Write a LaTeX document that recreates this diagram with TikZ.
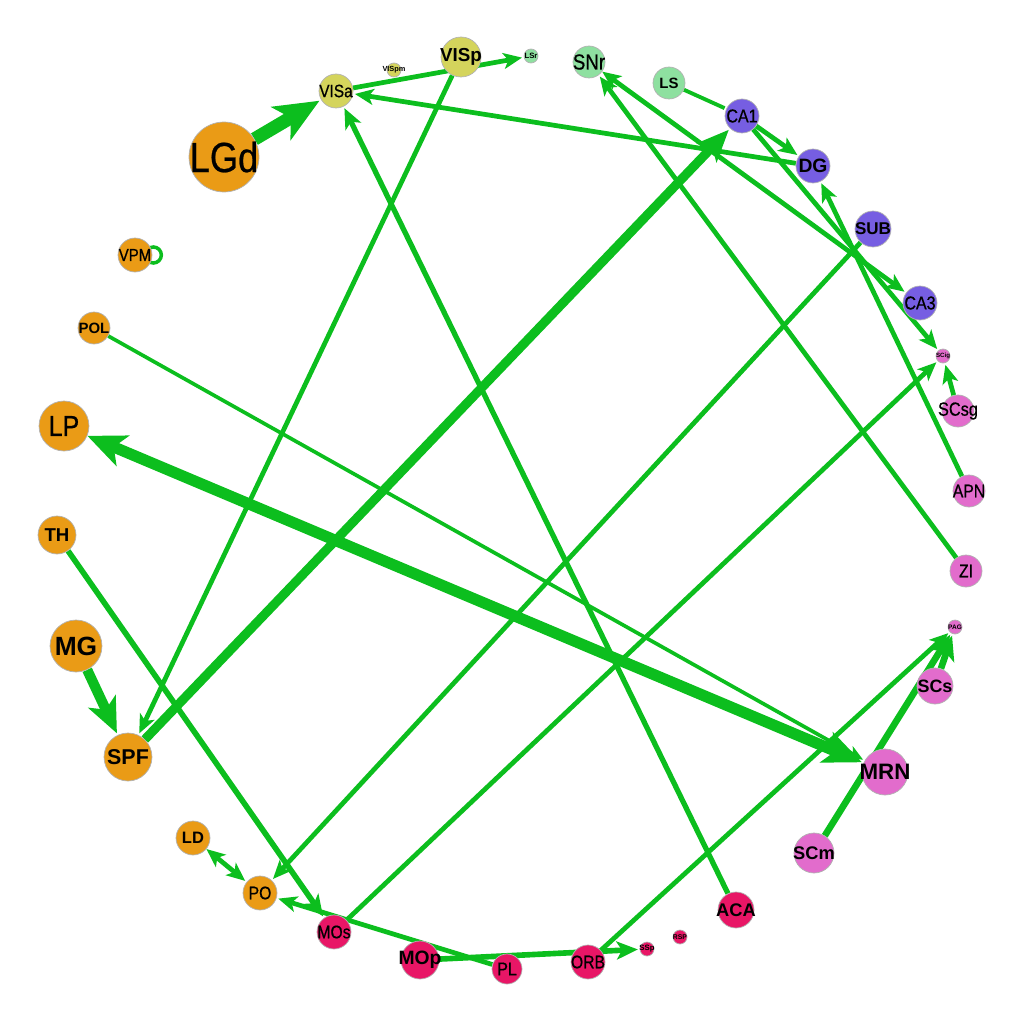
\documentclass[tikz,border=0pt]{standalone}
\usepackage{fontspec}
\setmainfont{Liberation Sans}
\newfontfamily\narrowsans{Liberation Sans}[FakeStretch=0.86,FakeBold=0.6]
\usetikzlibrary{arrows.meta,backgrounds}

\definecolor{linkgreen}{RGB}{12,190,30}
\definecolor{thal}{RGB}{234,155,22}
\definecolor{vis}{RGB}{212,212,92}
\definecolor{str}{RGB}{142,224,160}
\definecolor{hip}{RGB}{118,94,226}
\definecolor{mid}{RGB}{226,108,204}
\definecolor{ctx}{RGB}{232,22,102}

\newcommand{\fsz}[1]{\fontsize{#1}{#1}\selectfont}
\newcommand{\nm}[1]{\makebox[0pt]{#1}}

\begin{document}
\begin{tikzpicture}[x=0.02cm,y=-0.02cm,>={Stealth[length=2.5pt 3,width'=0pt 0.85,inset'=0pt 0.25]}]
    \tikzstyle{area}=[circle,draw=black!30,line width=0.4pt,inner sep=0pt]
    \tikzstyle{link}=[->,draw=linkgreen,fill=linkgreen,shorten >=1pt,line width=2.7pt]
    \useasboundingbox (0,0) rectangle (1024,1024);

    \node[area,fill=thal,minimum size=1.40cm,font=\narrowsans\fsz{24}] (LGd) at (224,157) {\nm{LGd}};
    \node[area,fill=vis,minimum size=0.68cm,font=\narrowsans\fsz{10.2}] (VISa) at (336,91) {\nm{VISa}};
    \node[area,fill=vis,minimum size=0.28cm,font=\fsz{4.2}\bfseries] (VISpm) at (394,70) {\nm{VISpm}};
    \node[area,fill=vis,minimum size=0.80cm,font=\fsz{10.7}\bfseries] (VISp) at (461,57) {\nm{VISp}};
    \node[area,fill=str,minimum size=0.28cm,font=\fsz{4.4}\bfseries] (LSr) at (531,56) {\nm{LSr}};
    \node[area,fill=str,minimum size=0.64cm,font=\narrowsans\fsz{12.4}] (SNr) at (589,62) {\nm{SNr}};
    \node[area,fill=str,minimum size=0.64cm,font=\fsz{8.5}\bfseries] (LS) at (669,83) {\nm{LS}};
    \node[area,fill=hip,minimum size=0.68cm,font=\narrowsans\fsz{10.6}] (CA1) at (742,116) {\nm{CA1}};
    \node[area,fill=hip,minimum size=0.68cm,font=\fsz{11}\bfseries] (DG) at (813,166) {\nm{DG}};
    \node[area,fill=hip,minimum size=0.72cm,font=\fsz{9.7}\bfseries] (SUB) at (873,229) {\nm{SUB}};
    \node[area,fill=hip,minimum size=0.68cm,font=\narrowsans\fsz{10.6}] (CA3) at (920,303) {\nm{CA3}};
    \node[area,fill=mid,minimum size=0.28cm,font=\fsz{3.5}\bfseries] (SCig) at (943,356) {\nm{SCig}};
    \node[area,fill=mid,minimum size=0.64cm,font=\narrowsans\fsz{10.8}] (SCsg) at (958,411) {\nm{SCsg}};
    \node[area,fill=mid,minimum size=0.64cm,font=\narrowsans\fsz{10.4}] (APN) at (969,491) {\nm{APN}};
    \node[area,fill=mid,minimum size=0.64cm,font=\narrowsans\fsz{10.4}] (ZI) at (966,571) {\nm{ZI}};
    \node[area,fill=mid,minimum size=0.28cm,font=\fsz{3.7}\bfseries] (PAG) at (955,627) {\nm{PAG}};
    \node[area,fill=mid,minimum size=0.72cm,font=\fsz{10.2}\bfseries] (SCs) at (935,686) {\nm{SCs}};
    \node[area,fill=mid,minimum size=0.92cm,font=\fsz{12.7}\bfseries] (MRN) at (885,772) {\nm{MRN}};
    \node[area,fill=mid,minimum size=0.80cm,font=\fsz{10.4}\bfseries] (SCm) at (814,853) {\nm{SCm}};
    \node[area,fill=ctx,minimum size=0.72cm,font=\fsz{10.4}\bfseries] (ACA) at (736,910) {\nm{ACA}};
    \node[area,fill=ctx,minimum size=0.28cm,font=\fsz{3.9}\bfseries] (RSP) at (680,937) {\nm{RSP}};
    \node[area,fill=ctx,minimum size=0.28cm,font=\fsz{4.4}\bfseries] (SSp) at (647,949) {\nm{SSp}};
    \node[area,fill=ctx,minimum size=0.68cm,font=\narrowsans\fsz{10.4}] (ORB) at (588,962) {\nm{ORB}};
    \node[area,fill=ctx,minimum size=0.60cm,font=\narrowsans\fsz{10.6}] (PL) at (507,969) {\nm{PL}};
    \node[area,fill=ctx,minimum size=0.76cm,font=\fsz{11}\bfseries] (MOp) at (420,960) {\nm{MOp}};
    \node[area,fill=ctx,minimum size=0.68cm,font=\narrowsans\fsz{10.4}] (MOs) at (334,932) {\nm{MOs}};
    \node[area,fill=thal,minimum size=0.68cm,font=\narrowsans\fsz{10.4}] (PO) at (260,893) {\nm{PO}};
    \node[area,fill=thal,minimum size=0.68cm,font=\fsz{9.4}\bfseries] (LD) at (193,838) {\nm{LD}};
    \node[area,fill=thal,minimum size=0.96cm,font=\fsz{12.2}\bfseries] (SPF) at (128,757) {\nm{SPF}};
    \node[area,fill=thal,minimum size=1.04cm,font=\fsz{15}\bfseries] (MG) at (76,646) {\nm{MG}};
    \node[area,fill=thal,minimum size=0.76cm,font=\fsz{10.6}\bfseries] (TH) at (57,535) {\nm{TH}};
    \node[area,fill=thal,minimum size=1.00cm,font=\narrowsans\fsz{16.5}] (LP) at (64,426) {\nm{LP}};
    \node[area,fill=thal,minimum size=0.64cm,font=\fsz{8.5}\bfseries] (POL) at (94,328) {\nm{POL}};
    \node[area,fill=thal,minimum size=0.68cm,font=\narrowsans\fsz{9.9}] (VPM) at (135,255) {\nm{VPM}};

    % connections under the areas
    \begin{scope}[on background layer]
    \path[link,line width=7.6pt] (LGd) edge (VISa);
    \path[link] (VISa) edge (LSr);
    \path[link] (VISp) edge (SPF);
    \path[link] (DG) edge (VISa);
    \path[link,line width=3pt] (ACA) edge (VISa);
    \path[link,line width=5.2pt] (SPF) edge (CA1);
    \path[link,line width=2.2pt,-] (LS) edge (CA1);
    \path[link] (CA1) edge (DG);
    \path[link] (CA1) edge (SCig);
    \path[link,<->] (SNr) edge (CA3);
    \path[link] (ZI) edge (SNr);
    \path[link] (APN) edge (DG);
    \path[link] (SCsg) edge (SCig);
    \path[link] (SUB) edge (PO);
    \path[link] (MOs) edge (SCig);
    \path[link,line width=2.1pt] (POL) edge (MRN);
    \path[link,line width=6.4pt,<->] (LP) edge (MRN);
    \path[link,line width=3.2pt] (TH) edge (MOs);
    \path[link,line width=5.8pt] (MG) edge (SPF);
    \path[link,<->] (LD) edge (PO);
    \path[link] (PL) edge (PO);
    \path[link,line width=3.2pt] (MOp) edge (SSp);
    \path[link] (ORB) edge (PAG);
    \path[link,line width=3.8pt] (SCs) edge (PAG);
    \path[link,line width=3.8pt] (SCm) edge (PAG);
    \draw[link,-,fill=none,line width=2pt] (VPM.east) ++(1,0) circle[radius=0.16cm];
    \end{scope}
\end{tikzpicture}
\end{document}
